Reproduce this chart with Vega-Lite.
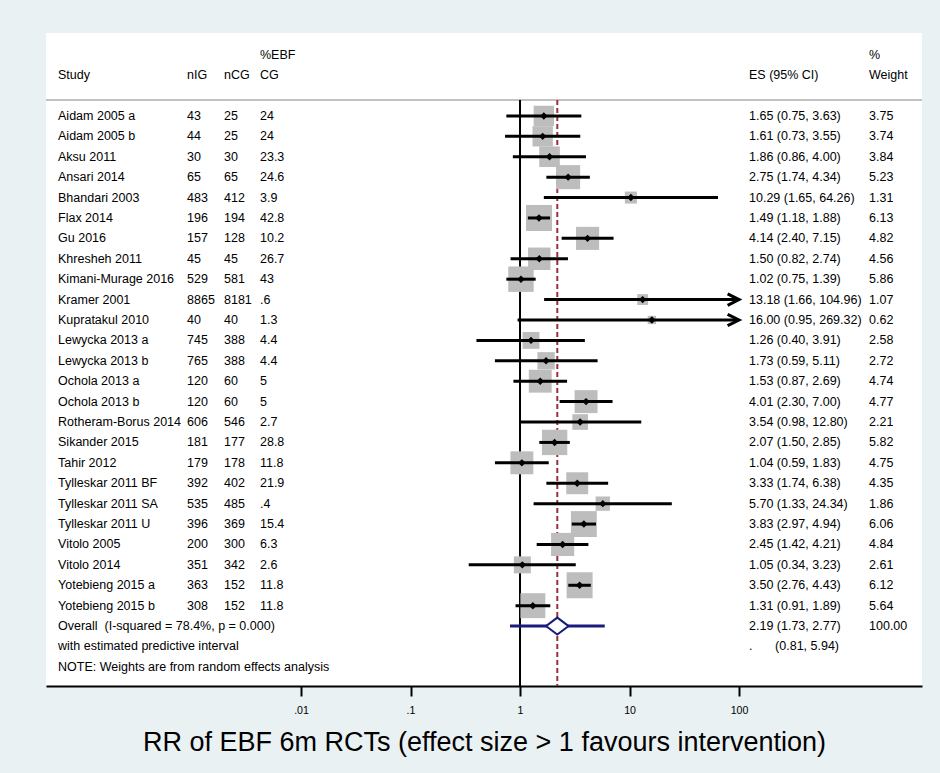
{
  "$schema": "https://vega.github.io/schema/vega-lite/v6.json",
  "width": 876,
  "height": 653,
  "autosize": {"type": "none"},
  "padding": {"left": 46, "top": 33, "right": 18, "bottom": 87},
  "background": "#eaf1f3",
  "config": {
    "view": {"fill": "white", "stroke": null},
    "font": "Liberation Sans",
    "text": {"font": "Liberation Sans", "fontSize": 12.5, "color": "black", "baseline": "middle", "align": "left"}
  },
  "datasets": {
    "studies": [
      {"study": "Aidam 2005 a", "nig": "43", "ncg": "25", "pcg": "24", "es": 1.65, "lo": 0.75, "hi": 3.63, "w": 3.75},
      {"study": "Aidam 2005 b", "nig": "44", "ncg": "25", "pcg": "24", "es": 1.61, "lo": 0.73, "hi": 3.55, "w": 3.74},
      {"study": "Aksu 2011", "nig": "30", "ncg": "30", "pcg": "23.3", "es": 1.86, "lo": 0.86, "hi": 4.00, "w": 3.84},
      {"study": "Ansari 2014", "nig": "65", "ncg": "65", "pcg": "24.6", "es": 2.75, "lo": 1.74, "hi": 4.34, "w": 5.23},
      {"study": "Bhandari 2003", "nig": "483", "ncg": "412", "pcg": "3.9", "es": 10.29, "lo": 1.65, "hi": 64.26, "w": 1.31},
      {"study": "Flax 2014", "nig": "196", "ncg": "194", "pcg": "42.8", "es": 1.49, "lo": 1.18, "hi": 1.88, "w": 6.13},
      {"study": "Gu 2016", "nig": "157", "ncg": "128", "pcg": "10.2", "es": 4.14, "lo": 2.40, "hi": 7.15, "w": 4.82},
      {"study": "Khresheh 2011", "nig": "45", "ncg": "45", "pcg": "26.7", "es": 1.50, "lo": 0.82, "hi": 2.74, "w": 4.56},
      {"study": "Kimani-Murage 2016", "nig": "529", "ncg": "581", "pcg": "43", "es": 1.02, "lo": 0.75, "hi": 1.39, "w": 5.86},
      {"study": "Kramer 2001", "nig": "8865", "ncg": "8181", "pcg": ".6", "es": 13.18, "lo": 1.66, "hi": 104.96, "w": 1.07},
      {"study": "Kupratakul 2010", "nig": "40", "ncg": "40", "pcg": "1.3", "es": 16.00, "lo": 0.95, "hi": 269.32, "w": 0.62},
      {"study": "Lewycka 2013 a", "nig": "745", "ncg": "388", "pcg": "4.4", "es": 1.26, "lo": 0.40, "hi": 3.91, "w": 2.58},
      {"study": "Lewycka 2013 b", "nig": "765", "ncg": "388", "pcg": "4.4", "es": 1.73, "lo": 0.59, "hi": 5.11, "w": 2.72},
      {"study": "Ochola 2013 a", "nig": "120", "ncg": "60", "pcg": "5", "es": 1.53, "lo": 0.87, "hi": 2.69, "w": 4.74},
      {"study": "Ochola 2013 b", "nig": "120", "ncg": "60", "pcg": "5", "es": 4.01, "lo": 2.30, "hi": 7.00, "w": 4.77},
      {"study": "Rotheram-Borus 2014", "nig": "606", "ncg": "546", "pcg": "2.7", "es": 3.54, "lo": 0.98, "hi": 12.80, "w": 2.21},
      {"study": "Sikander 2015", "nig": "181", "ncg": "177", "pcg": "28.8", "es": 2.07, "lo": 1.50, "hi": 2.85, "w": 5.82},
      {"study": "Tahir 2012", "nig": "179", "ncg": "178", "pcg": "11.8", "es": 1.04, "lo": 0.59, "hi": 1.83, "w": 4.75},
      {"study": "Tylleskar 2011 BF", "nig": "392", "ncg": "402", "pcg": "21.9", "es": 3.33, "lo": 1.74, "hi": 6.38, "w": 4.35},
      {"study": "Tylleskar 2011 SA", "nig": "535", "ncg": "485", "pcg": ".4", "es": 5.70, "lo": 1.33, "hi": 24.34, "w": 1.86},
      {"study": "Tylleskar 2011 U", "nig": "396", "ncg": "369", "pcg": "15.4", "es": 3.83, "lo": 2.97, "hi": 4.94, "w": 6.06},
      {"study": "Vitolo 2005", "nig": "200", "ncg": "300", "pcg": "6.3", "es": 2.45, "lo": 1.42, "hi": 4.21, "w": 4.84},
      {"study": "Vitolo 2014", "nig": "351", "ncg": "342", "pcg": "2.6", "es": 1.05, "lo": 0.34, "hi": 3.23, "w": 2.61},
      {"study": "Yotebieng 2015 a", "nig": "363", "ncg": "152", "pcg": "11.8", "es": 3.50, "lo": 2.76, "hi": 4.43, "w": 6.12},
      {"study": "Yotebieng 2015 b", "nig": "308", "ncg": "152", "pcg": "11.8", "es": 1.31, "lo": 0.91, "hi": 1.89, "w": 5.64}
    ],
    "overall": [
      {"row": "Overall", "label": "Overall\u00a0 (I-squared = 78.4%, p = 0.000)", "es": 2.19, "lo": 1.73, "hi": 2.77, "plo": 0.81, "phi": 5.94, "w": 100}
    ],
    "notes": [
      {"row": "pred", "text": "with estimated predictive interval"},
      {"row": "note", "text": "NOTE: Weights are from random effects analysis"}
    ],
    "headers": [
      {"row": "h1", "c1": "", "c2": "", "c3": "", "c4": "%EBF", "c5": "", "c6": "%"},
      {"row": "h2", "c1": "Study", "c2": "nIG", "c3": "nCG", "c4": "CG", "c5": "ES (95% CI)", "c6": "Weight"}
    ]
  },
  "layer": [
    {
      "data": {"values": [{}]},
      "mark": {"type": "rule", "color": "#c2c2c2", "strokeWidth": 2, "yOffset": 4.4},
      "encoding": {
        "y": {"datum": "sep", "type": "nominal", "axis": null, "scale": {"type": "point", "domain": ["h1", "h2", "sep", "Aidam 2005 a", "Aidam 2005 b", "Aksu 2011", "Ansari 2014", "Bhandari 2003", "Flax 2014", "Gu 2016", "Khresheh 2011", "Kimani-Murage 2016", "Kramer 2001", "Kupratakul 2010", "Lewycka 2013 a", "Lewycka 2013 b", "Ochola 2013 a", "Ochola 2013 b", "Rotheram-Borus 2014", "Sikander 2015", "Tahir 2012", "Tylleskar 2011 BF", "Tylleskar 2011 SA", "Tylleskar 2011 U", "Vitolo 2005", "Vitolo 2014", "Yotebieng 2015 a", "Yotebieng 2015 b", "Overall", "pred", "note"], "padding": 1.005, "align": 0.532, "round": false}}
      }
    },
    {
      "data": {"values": [{}]},
      "mark": {"type": "rule", "color": "black", "strokeWidth": 2, "yOffset": 4.4},
      "encoding": {
        "x": {"datum": 1, "type": "quantitative", "scale": {"type": "log", "domain": [0.0000469, 4688], "nice": false},
          "axis": {"values": [0.01, 0.1, 1, 10, 100], "format": "~g", "labelExpr": "datum.value < 1 ? replace(datum.label, '0.', '.') : datum.label",
            "grid": false, "domainColor": "black", "domainWidth": 2, "tickColor": "black", "tickWidth": 2, "tickSize": 10,
            "labelFontSize": 10.6, "labelColor": "black", "labelPadding": 9, "labelFont": "Liberation Sans",
            "title": "RR of EBF 6m RCTs (effect size > 1 favours intervention)", "titleFontSize": 27, "titleFontWeight": "normal",
            "titleColor": "black", "titleFont": "Liberation Sans", "titlePadding": 14}},
        "y": {"datum": "sep", "type": "nominal", "axis": null, "scale": {"type": "point", "domain": ["h1", "h2", "sep", "Aidam 2005 a", "Aidam 2005 b", "Aksu 2011", "Ansari 2014", "Bhandari 2003", "Flax 2014", "Gu 2016", "Khresheh 2011", "Kimani-Murage 2016", "Kramer 2001", "Kupratakul 2010", "Lewycka 2013 a", "Lewycka 2013 b", "Ochola 2013 a", "Ochola 2013 b", "Rotheram-Borus 2014", "Sikander 2015", "Tahir 2012", "Tylleskar 2011 BF", "Tylleskar 2011 SA", "Tylleskar 2011 U", "Vitolo 2005", "Vitolo 2014", "Yotebieng 2015 a", "Yotebieng 2015 b", "Overall", "pred", "note"], "padding": 1.005, "align": 0.532, "round": false}},
        "y2": {"value": "height"}
      }
    },
    {
      "data": {"name": "overall"},
      "mark": {"type": "rule", "color": "#9c2d3b", "strokeWidth": 2, "strokeDash": [5, 3], "yOffset": 4.4},
      "encoding": {
        "x": {"field": "es", "type": "quantitative", "scale": {"type": "log", "domain": [0.0000469, 4688], "nice": false}},
        "y": {"datum": "sep", "type": "nominal", "axis": null, "scale": {"type": "point", "domain": ["h1", "h2", "sep", "Aidam 2005 a", "Aidam 2005 b", "Aksu 2011", "Ansari 2014", "Bhandari 2003", "Flax 2014", "Gu 2016", "Khresheh 2011", "Kimani-Murage 2016", "Kramer 2001", "Kupratakul 2010", "Lewycka 2013 a", "Lewycka 2013 b", "Ochola 2013 a", "Ochola 2013 b", "Rotheram-Borus 2014", "Sikander 2015", "Tahir 2012", "Tylleskar 2011 BF", "Tylleskar 2011 SA", "Tylleskar 2011 U", "Vitolo 2005", "Vitolo 2014", "Yotebieng 2015 a", "Yotebieng 2015 b", "Overall", "pred", "note"], "padding": 1.005, "align": 0.532, "round": false}},
        "y2": {"value": "height"}
      }
    },
    {
      "data": {"name": "studies"},
      "mark": {"type": "point", "shape": "square", "filled": true, "color": "#bdbdbd", "opacity": 1},
      "encoding": {
        "x": {"field": "es", "type": "quantitative", "scale": {"type": "log", "domain": [0.0000469, 4688], "nice": false}},
        "y": {"field": "study", "type": "nominal", "axis": null, "scale": {"type": "point", "domain": ["h1", "h2", "sep", "Aidam 2005 a", "Aidam 2005 b", "Aksu 2011", "Ansari 2014", "Bhandari 2003", "Flax 2014", "Gu 2016", "Khresheh 2011", "Kimani-Murage 2016", "Kramer 2001", "Kupratakul 2010", "Lewycka 2013 a", "Lewycka 2013 b", "Ochola 2013 a", "Ochola 2013 b", "Rotheram-Borus 2014", "Sikander 2015", "Tahir 2012", "Tylleskar 2011 BF", "Tylleskar 2011 SA", "Tylleskar 2011 U", "Vitolo 2005", "Vitolo 2014", "Yotebieng 2015 a", "Yotebieng 2015 b", "Overall", "pred", "note"], "padding": 1.005, "align": 0.532, "round": false}},
        "size": {"field": "w", "type": "quantitative", "legend": null, "scale": {"type": "linear", "domain": [0, 7], "range": [0, 773.5]}}
      }
    },
    {
      "data": {"name": "studies"},
      "transform": [{"filter": "datum.hi <= 100"}],
      "mark": {"type": "rule", "color": "black", "strokeWidth": 3},
      "encoding": {
        "x": {"field": "lo", "type": "quantitative", "scale": {"type": "log", "domain": [0.0000469, 4688], "nice": false}},
        "x2": {"field": "hi"},
        "y": {"field": "study", "type": "nominal", "axis": null, "scale": {"type": "point", "domain": ["h1", "h2", "sep", "Aidam 2005 a", "Aidam 2005 b", "Aksu 2011", "Ansari 2014", "Bhandari 2003", "Flax 2014", "Gu 2016", "Khresheh 2011", "Kimani-Murage 2016", "Kramer 2001", "Kupratakul 2010", "Lewycka 2013 a", "Lewycka 2013 b", "Ochola 2013 a", "Ochola 2013 b", "Rotheram-Borus 2014", "Sikander 2015", "Tahir 2012", "Tylleskar 2011 BF", "Tylleskar 2011 SA", "Tylleskar 2011 U", "Vitolo 2005", "Vitolo 2014", "Yotebieng 2015 a", "Yotebieng 2015 b", "Overall", "pred", "note"], "padding": 1.005, "align": 0.532, "round": false}}
      }
    },
    {
      "data": {"name": "studies"},
      "transform": [{"filter": "datum.hi > 100"}],
      "mark": {"type": "rule", "color": "black", "strokeWidth": 3},
      "encoding": {
        "x": {"field": "lo", "type": "quantitative", "scale": {"type": "log", "domain": [0.0000469, 4688], "nice": false}},
        "x2": {"datum": 97},
        "y": {"field": "study", "type": "nominal", "axis": null, "scale": {"type": "point", "domain": ["h1", "h2", "sep", "Aidam 2005 a", "Aidam 2005 b", "Aksu 2011", "Ansari 2014", "Bhandari 2003", "Flax 2014", "Gu 2016", "Khresheh 2011", "Kimani-Murage 2016", "Kramer 2001", "Kupratakul 2010", "Lewycka 2013 a", "Lewycka 2013 b", "Ochola 2013 a", "Ochola 2013 b", "Rotheram-Borus 2014", "Sikander 2015", "Tahir 2012", "Tylleskar 2011 BF", "Tylleskar 2011 SA", "Tylleskar 2011 U", "Vitolo 2005", "Vitolo 2014", "Yotebieng 2015 a", "Yotebieng 2015 b", "Overall", "pred", "note"], "padding": 1.005, "align": 0.532, "round": false}}
      }
    },
    {
      "data": {"name": "studies"},
      "transform": [{"filter": "datum.hi > 100"}],
      "mark": {"type": "point", "shape": "M-2,-1L0,0L-2,1", "filled": false, "stroke": "black", "strokeWidth": 3, "size": 130, "opacity": 1},
      "encoding": {
        "x": {"datum": 100, "type": "quantitative", "scale": {"type": "log", "domain": [0.0000469, 4688], "nice": false}},
        "y": {"field": "study", "type": "nominal", "axis": null, "scale": {"type": "point", "domain": ["h1", "h2", "sep", "Aidam 2005 a", "Aidam 2005 b", "Aksu 2011", "Ansari 2014", "Bhandari 2003", "Flax 2014", "Gu 2016", "Khresheh 2011", "Kimani-Murage 2016", "Kramer 2001", "Kupratakul 2010", "Lewycka 2013 a", "Lewycka 2013 b", "Ochola 2013 a", "Ochola 2013 b", "Rotheram-Borus 2014", "Sikander 2015", "Tahir 2012", "Tylleskar 2011 BF", "Tylleskar 2011 SA", "Tylleskar 2011 U", "Vitolo 2005", "Vitolo 2014", "Yotebieng 2015 a", "Yotebieng 2015 b", "Overall", "pred", "note"], "padding": 1.005, "align": 0.532, "round": false}}
      }
    },
    {
      "data": {"name": "studies"},
      "mark": {"type": "point", "shape": "diamond", "filled": true, "color": "black", "size": 55, "opacity": 1},
      "encoding": {
        "x": {"field": "es", "type": "quantitative", "scale": {"type": "log", "domain": [0.0000469, 4688], "nice": false}},
        "y": {"field": "study", "type": "nominal", "axis": null, "scale": {"type": "point", "domain": ["h1", "h2", "sep", "Aidam 2005 a", "Aidam 2005 b", "Aksu 2011", "Ansari 2014", "Bhandari 2003", "Flax 2014", "Gu 2016", "Khresheh 2011", "Kimani-Murage 2016", "Kramer 2001", "Kupratakul 2010", "Lewycka 2013 a", "Lewycka 2013 b", "Ochola 2013 a", "Ochola 2013 b", "Rotheram-Borus 2014", "Sikander 2015", "Tahir 2012", "Tylleskar 2011 BF", "Tylleskar 2011 SA", "Tylleskar 2011 U", "Vitolo 2005", "Vitolo 2014", "Yotebieng 2015 a", "Yotebieng 2015 b", "Overall", "pred", "note"], "padding": 1.005, "align": 0.532, "round": false}}
      }
    },
    {
      "data": {"name": "overall"},
      "mark": {"type": "rule", "color": "#1b1b7e", "strokeWidth": 3},
      "encoding": {
        "x": {"field": "plo", "type": "quantitative", "scale": {"type": "log", "domain": [0.0000469, 4688], "nice": false}},
        "x2": {"field": "phi"},
        "y": {"field": "row", "type": "nominal", "axis": null, "scale": {"type": "point", "domain": ["h1", "h2", "sep", "Aidam 2005 a", "Aidam 2005 b", "Aksu 2011", "Ansari 2014", "Bhandari 2003", "Flax 2014", "Gu 2016", "Khresheh 2011", "Kimani-Murage 2016", "Kramer 2001", "Kupratakul 2010", "Lewycka 2013 a", "Lewycka 2013 b", "Ochola 2013 a", "Ochola 2013 b", "Rotheram-Borus 2014", "Sikander 2015", "Tahir 2012", "Tylleskar 2011 BF", "Tylleskar 2011 SA", "Tylleskar 2011 U", "Vitolo 2005", "Vitolo 2014", "Yotebieng 2015 a", "Yotebieng 2015 b", "Overall", "pred", "note"], "padding": 1.005, "align": 0.532, "round": false}}
      }
    },
    {
      "data": {"name": "overall"},
      "mark": {"type": "point", "shape": "M-1,0L0,-0.75L1,0L0,0.75Z", "filled": true, "fill": "white", "stroke": "#1b1b7e", "strokeWidth": 2, "size": 511, "opacity": 1},
      "encoding": {
        "x": {"field": "es", "type": "quantitative", "scale": {"type": "log", "domain": [0.0000469, 4688], "nice": false}},
        "y": {"field": "row", "type": "nominal", "axis": null, "scale": {"type": "point", "domain": ["h1", "h2", "sep", "Aidam 2005 a", "Aidam 2005 b", "Aksu 2011", "Ansari 2014", "Bhandari 2003", "Flax 2014", "Gu 2016", "Khresheh 2011", "Kimani-Murage 2016", "Kramer 2001", "Kupratakul 2010", "Lewycka 2013 a", "Lewycka 2013 b", "Ochola 2013 a", "Ochola 2013 b", "Rotheram-Borus 2014", "Sikander 2015", "Tahir 2012", "Tylleskar 2011 BF", "Tylleskar 2011 SA", "Tylleskar 2011 U", "Vitolo 2005", "Vitolo 2014", "Yotebieng 2015 a", "Yotebieng 2015 b", "Overall", "pred", "note"], "padding": 1.005, "align": 0.532, "round": false}}
      }
    },
    {
      "data": {"name": "studies"},
      "mark": "text",
      "encoding": {
        "x": {"datum": 0.0000604, "type": "quantitative", "scale": {"type": "log", "domain": [0.0000469, 4688], "nice": false}},
        "y": {"field": "study", "type": "nominal", "axis": null, "scale": {"type": "point", "domain": ["h1", "h2", "sep", "Aidam 2005 a", "Aidam 2005 b", "Aksu 2011", "Ansari 2014", "Bhandari 2003", "Flax 2014", "Gu 2016", "Khresheh 2011", "Kimani-Murage 2016", "Kramer 2001", "Kupratakul 2010", "Lewycka 2013 a", "Lewycka 2013 b", "Ochola 2013 a", "Ochola 2013 b", "Rotheram-Borus 2014", "Sikander 2015", "Tahir 2012", "Tylleskar 2011 BF", "Tylleskar 2011 SA", "Tylleskar 2011 U", "Vitolo 2005", "Vitolo 2014", "Yotebieng 2015 a", "Yotebieng 2015 b", "Overall", "pred", "note"], "padding": 1.005, "align": 0.532, "round": false}},
        "text": {"field": "study"}
      }
    },
    {
      "data": {"name": "studies"},
      "mark": "text",
      "encoding": {
        "x": {"datum": 0.00091, "type": "quantitative", "scale": {"type": "log", "domain": [0.0000469, 4688], "nice": false}},
        "y": {"field": "study", "type": "nominal", "axis": null, "scale": {"type": "point", "domain": ["h1", "h2", "sep", "Aidam 2005 a", "Aidam 2005 b", "Aksu 2011", "Ansari 2014", "Bhandari 2003", "Flax 2014", "Gu 2016", "Khresheh 2011", "Kimani-Murage 2016", "Kramer 2001", "Kupratakul 2010", "Lewycka 2013 a", "Lewycka 2013 b", "Ochola 2013 a", "Ochola 2013 b", "Rotheram-Borus 2014", "Sikander 2015", "Tahir 2012", "Tylleskar 2011 BF", "Tylleskar 2011 SA", "Tylleskar 2011 U", "Vitolo 2005", "Vitolo 2014", "Yotebieng 2015 a", "Yotebieng 2015 b", "Overall", "pred", "note"], "padding": 1.005, "align": 0.532, "round": false}},
        "text": {"field": "nig"}
      }
    },
    {
      "data": {"name": "studies"},
      "mark": "text",
      "encoding": {
        "x": {"datum": 0.00198, "type": "quantitative", "scale": {"type": "log", "domain": [0.0000469, 4688], "nice": false}},
        "y": {"field": "study", "type": "nominal", "axis": null, "scale": {"type": "point", "domain": ["h1", "h2", "sep", "Aidam 2005 a", "Aidam 2005 b", "Aksu 2011", "Ansari 2014", "Bhandari 2003", "Flax 2014", "Gu 2016", "Khresheh 2011", "Kimani-Murage 2016", "Kramer 2001", "Kupratakul 2010", "Lewycka 2013 a", "Lewycka 2013 b", "Ochola 2013 a", "Ochola 2013 b", "Rotheram-Borus 2014", "Sikander 2015", "Tahir 2012", "Tylleskar 2011 BF", "Tylleskar 2011 SA", "Tylleskar 2011 U", "Vitolo 2005", "Vitolo 2014", "Yotebieng 2015 a", "Yotebieng 2015 b", "Overall", "pred", "note"], "padding": 1.005, "align": 0.532, "round": false}},
        "text": {"field": "ncg"}
      }
    },
    {
      "data": {"name": "studies"},
      "mark": "text",
      "encoding": {
        "x": {"datum": 0.00422, "type": "quantitative", "scale": {"type": "log", "domain": [0.0000469, 4688], "nice": false}},
        "y": {"field": "study", "type": "nominal", "axis": null, "scale": {"type": "point", "domain": ["h1", "h2", "sep", "Aidam 2005 a", "Aidam 2005 b", "Aksu 2011", "Ansari 2014", "Bhandari 2003", "Flax 2014", "Gu 2016", "Khresheh 2011", "Kimani-Murage 2016", "Kramer 2001", "Kupratakul 2010", "Lewycka 2013 a", "Lewycka 2013 b", "Ochola 2013 a", "Ochola 2013 b", "Rotheram-Borus 2014", "Sikander 2015", "Tahir 2012", "Tylleskar 2011 BF", "Tylleskar 2011 SA", "Tylleskar 2011 U", "Vitolo 2005", "Vitolo 2014", "Yotebieng 2015 a", "Yotebieng 2015 b", "Overall", "pred", "note"], "padding": 1.005, "align": 0.532, "round": false}},
        "text": {"field": "pcg"}
      }
    },
    {
      "data": {"name": "studies"},
      "transform": [{"calculate": "format(datum.es, '.2f') + ' (' + format(datum.lo, '.2f') + ', ' + format(datum.hi, '.2f') + ')'", "as": "esl"}],
      "mark": "text",
      "encoding": {
        "x": {"datum": 123.4, "type": "quantitative", "scale": {"type": "log", "domain": [0.0000469, 4688], "nice": false}},
        "y": {"field": "study", "type": "nominal", "axis": null, "scale": {"type": "point", "domain": ["h1", "h2", "sep", "Aidam 2005 a", "Aidam 2005 b", "Aksu 2011", "Ansari 2014", "Bhandari 2003", "Flax 2014", "Gu 2016", "Khresheh 2011", "Kimani-Murage 2016", "Kramer 2001", "Kupratakul 2010", "Lewycka 2013 a", "Lewycka 2013 b", "Ochola 2013 a", "Ochola 2013 b", "Rotheram-Borus 2014", "Sikander 2015", "Tahir 2012", "Tylleskar 2011 BF", "Tylleskar 2011 SA", "Tylleskar 2011 U", "Vitolo 2005", "Vitolo 2014", "Yotebieng 2015 a", "Yotebieng 2015 b", "Overall", "pred", "note"], "padding": 1.005, "align": 0.532, "round": false}},
        "text": {"field": "esl"}
      }
    },
    {
      "data": {"name": "studies"},
      "mark": "text",
      "encoding": {
        "x": {"datum": 1539, "type": "quantitative", "scale": {"type": "log", "domain": [0.0000469, 4688], "nice": false}},
        "y": {"field": "study", "type": "nominal", "axis": null, "scale": {"type": "point", "domain": ["h1", "h2", "sep", "Aidam 2005 a", "Aidam 2005 b", "Aksu 2011", "Ansari 2014", "Bhandari 2003", "Flax 2014", "Gu 2016", "Khresheh 2011", "Kimani-Murage 2016", "Kramer 2001", "Kupratakul 2010", "Lewycka 2013 a", "Lewycka 2013 b", "Ochola 2013 a", "Ochola 2013 b", "Rotheram-Borus 2014", "Sikander 2015", "Tahir 2012", "Tylleskar 2011 BF", "Tylleskar 2011 SA", "Tylleskar 2011 U", "Vitolo 2005", "Vitolo 2014", "Yotebieng 2015 a", "Yotebieng 2015 b", "Overall", "pred", "note"], "padding": 1.005, "align": 0.532, "round": false}},
        "text": {"field": "w", "type": "quantitative", "format": ".2f"}
      }
    },
    {
      "data": {"name": "headers"},
      "mark": "text",
      "encoding": {
        "x": {"datum": 0.0000604, "type": "quantitative", "scale": {"type": "log", "domain": [0.0000469, 4688], "nice": false}},
        "y": {"field": "row", "type": "nominal", "axis": null, "scale": {"type": "point", "domain": ["h1", "h2", "sep", "Aidam 2005 a", "Aidam 2005 b", "Aksu 2011", "Ansari 2014", "Bhandari 2003", "Flax 2014", "Gu 2016", "Khresheh 2011", "Kimani-Murage 2016", "Kramer 2001", "Kupratakul 2010", "Lewycka 2013 a", "Lewycka 2013 b", "Ochola 2013 a", "Ochola 2013 b", "Rotheram-Borus 2014", "Sikander 2015", "Tahir 2012", "Tylleskar 2011 BF", "Tylleskar 2011 SA", "Tylleskar 2011 U", "Vitolo 2005", "Vitolo 2014", "Yotebieng 2015 a", "Yotebieng 2015 b", "Overall", "pred", "note"], "padding": 1.005, "align": 0.532, "round": false}},
        "text": {"field": "c1"}
      }
    },
    {
      "data": {"name": "headers"},
      "mark": "text",
      "encoding": {
        "x": {"datum": 0.00091, "type": "quantitative", "scale": {"type": "log", "domain": [0.0000469, 4688], "nice": false}},
        "y": {"field": "row", "type": "nominal", "axis": null, "scale": {"type": "point", "domain": ["h1", "h2", "sep", "Aidam 2005 a", "Aidam 2005 b", "Aksu 2011", "Ansari 2014", "Bhandari 2003", "Flax 2014", "Gu 2016", "Khresheh 2011", "Kimani-Murage 2016", "Kramer 2001", "Kupratakul 2010", "Lewycka 2013 a", "Lewycka 2013 b", "Ochola 2013 a", "Ochola 2013 b", "Rotheram-Borus 2014", "Sikander 2015", "Tahir 2012", "Tylleskar 2011 BF", "Tylleskar 2011 SA", "Tylleskar 2011 U", "Vitolo 2005", "Vitolo 2014", "Yotebieng 2015 a", "Yotebieng 2015 b", "Overall", "pred", "note"], "padding": 1.005, "align": 0.532, "round": false}},
        "text": {"field": "c2"}
      }
    },
    {
      "data": {"name": "headers"},
      "mark": "text",
      "encoding": {
        "x": {"datum": 0.00198, "type": "quantitative", "scale": {"type": "log", "domain": [0.0000469, 4688], "nice": false}},
        "y": {"field": "row", "type": "nominal", "axis": null, "scale": {"type": "point", "domain": ["h1", "h2", "sep", "Aidam 2005 a", "Aidam 2005 b", "Aksu 2011", "Ansari 2014", "Bhandari 2003", "Flax 2014", "Gu 2016", "Khresheh 2011", "Kimani-Murage 2016", "Kramer 2001", "Kupratakul 2010", "Lewycka 2013 a", "Lewycka 2013 b", "Ochola 2013 a", "Ochola 2013 b", "Rotheram-Borus 2014", "Sikander 2015", "Tahir 2012", "Tylleskar 2011 BF", "Tylleskar 2011 SA", "Tylleskar 2011 U", "Vitolo 2005", "Vitolo 2014", "Yotebieng 2015 a", "Yotebieng 2015 b", "Overall", "pred", "note"], "padding": 1.005, "align": 0.532, "round": false}},
        "text": {"field": "c3"}
      }
    },
    {
      "data": {"name": "headers"},
      "mark": "text",
      "encoding": {
        "x": {"datum": 0.00422, "type": "quantitative", "scale": {"type": "log", "domain": [0.0000469, 4688], "nice": false}},
        "y": {"field": "row", "type": "nominal", "axis": null, "scale": {"type": "point", "domain": ["h1", "h2", "sep", "Aidam 2005 a", "Aidam 2005 b", "Aksu 2011", "Ansari 2014", "Bhandari 2003", "Flax 2014", "Gu 2016", "Khresheh 2011", "Kimani-Murage 2016", "Kramer 2001", "Kupratakul 2010", "Lewycka 2013 a", "Lewycka 2013 b", "Ochola 2013 a", "Ochola 2013 b", "Rotheram-Borus 2014", "Sikander 2015", "Tahir 2012", "Tylleskar 2011 BF", "Tylleskar 2011 SA", "Tylleskar 2011 U", "Vitolo 2005", "Vitolo 2014", "Yotebieng 2015 a", "Yotebieng 2015 b", "Overall", "pred", "note"], "padding": 1.005, "align": 0.532, "round": false}},
        "text": {"field": "c4"}
      }
    },
    {
      "data": {"name": "headers"},
      "mark": "text",
      "encoding": {
        "x": {"datum": 123.4, "type": "quantitative", "scale": {"type": "log", "domain": [0.0000469, 4688], "nice": false}},
        "y": {"field": "row", "type": "nominal", "axis": null, "scale": {"type": "point", "domain": ["h1", "h2", "sep", "Aidam 2005 a", "Aidam 2005 b", "Aksu 2011", "Ansari 2014", "Bhandari 2003", "Flax 2014", "Gu 2016", "Khresheh 2011", "Kimani-Murage 2016", "Kramer 2001", "Kupratakul 2010", "Lewycka 2013 a", "Lewycka 2013 b", "Ochola 2013 a", "Ochola 2013 b", "Rotheram-Borus 2014", "Sikander 2015", "Tahir 2012", "Tylleskar 2011 BF", "Tylleskar 2011 SA", "Tylleskar 2011 U", "Vitolo 2005", "Vitolo 2014", "Yotebieng 2015 a", "Yotebieng 2015 b", "Overall", "pred", "note"], "padding": 1.005, "align": 0.532, "round": false}},
        "text": {"field": "c5"}
      }
    },
    {
      "data": {"name": "headers"},
      "mark": "text",
      "encoding": {
        "x": {"datum": 1539, "type": "quantitative", "scale": {"type": "log", "domain": [0.0000469, 4688], "nice": false}},
        "y": {"field": "row", "type": "nominal", "axis": null, "scale": {"type": "point", "domain": ["h1", "h2", "sep", "Aidam 2005 a", "Aidam 2005 b", "Aksu 2011", "Ansari 2014", "Bhandari 2003", "Flax 2014", "Gu 2016", "Khresheh 2011", "Kimani-Murage 2016", "Kramer 2001", "Kupratakul 2010", "Lewycka 2013 a", "Lewycka 2013 b", "Ochola 2013 a", "Ochola 2013 b", "Rotheram-Borus 2014", "Sikander 2015", "Tahir 2012", "Tylleskar 2011 BF", "Tylleskar 2011 SA", "Tylleskar 2011 U", "Vitolo 2005", "Vitolo 2014", "Yotebieng 2015 a", "Yotebieng 2015 b", "Overall", "pred", "note"], "padding": 1.005, "align": 0.532, "round": false}},
        "text": {"field": "c6"}
      }
    },
    {
      "data": {"name": "overall"},
      "mark": "text",
      "encoding": {
        "x": {"datum": 0.0000604, "type": "quantitative", "scale": {"type": "log", "domain": [0.0000469, 4688], "nice": false}},
        "y": {"field": "row", "type": "nominal", "axis": null, "scale": {"type": "point", "domain": ["h1", "h2", "sep", "Aidam 2005 a", "Aidam 2005 b", "Aksu 2011", "Ansari 2014", "Bhandari 2003", "Flax 2014", "Gu 2016", "Khresheh 2011", "Kimani-Murage 2016", "Kramer 2001", "Kupratakul 2010", "Lewycka 2013 a", "Lewycka 2013 b", "Ochola 2013 a", "Ochola 2013 b", "Rotheram-Borus 2014", "Sikander 2015", "Tahir 2012", "Tylleskar 2011 BF", "Tylleskar 2011 SA", "Tylleskar 2011 U", "Vitolo 2005", "Vitolo 2014", "Yotebieng 2015 a", "Yotebieng 2015 b", "Overall", "pred", "note"], "padding": 1.005, "align": 0.532, "round": false}},
        "text": {"field": "label"}
      }
    },
    {
      "data": {"name": "overall"},
      "transform": [{"calculate": "format(datum.es, '.2f') + ' (' + format(datum.lo, '.2f') + ', ' + format(datum.hi, '.2f') + ')'", "as": "esl"}],
      "mark": "text",
      "encoding": {
        "x": {"datum": 123.4, "type": "quantitative", "scale": {"type": "log", "domain": [0.0000469, 4688], "nice": false}},
        "y": {"field": "row", "type": "nominal", "axis": null, "scale": {"type": "point", "domain": ["h1", "h2", "sep", "Aidam 2005 a", "Aidam 2005 b", "Aksu 2011", "Ansari 2014", "Bhandari 2003", "Flax 2014", "Gu 2016", "Khresheh 2011", "Kimani-Murage 2016", "Kramer 2001", "Kupratakul 2010", "Lewycka 2013 a", "Lewycka 2013 b", "Ochola 2013 a", "Ochola 2013 b", "Rotheram-Borus 2014", "Sikander 2015", "Tahir 2012", "Tylleskar 2011 BF", "Tylleskar 2011 SA", "Tylleskar 2011 U", "Vitolo 2005", "Vitolo 2014", "Yotebieng 2015 a", "Yotebieng 2015 b", "Overall", "pred", "note"], "padding": 1.005, "align": 0.532, "round": false}},
        "text": {"field": "esl"}
      }
    },
    {
      "data": {"name": "overall"},
      "mark": "text",
      "encoding": {
        "x": {"datum": 1539, "type": "quantitative", "scale": {"type": "log", "domain": [0.0000469, 4688], "nice": false}},
        "y": {"field": "row", "type": "nominal", "axis": null, "scale": {"type": "point", "domain": ["h1", "h2", "sep", "Aidam 2005 a", "Aidam 2005 b", "Aksu 2011", "Ansari 2014", "Bhandari 2003", "Flax 2014", "Gu 2016", "Khresheh 2011", "Kimani-Murage 2016", "Kramer 2001", "Kupratakul 2010", "Lewycka 2013 a", "Lewycka 2013 b", "Ochola 2013 a", "Ochola 2013 b", "Rotheram-Borus 2014", "Sikander 2015", "Tahir 2012", "Tylleskar 2011 BF", "Tylleskar 2011 SA", "Tylleskar 2011 U", "Vitolo 2005", "Vitolo 2014", "Yotebieng 2015 a", "Yotebieng 2015 b", "Overall", "pred", "note"], "padding": 1.005, "align": 0.532, "round": false}},
        "text": {"field": "w", "type": "quantitative", "format": ".2f"}
      }
    },
    {
      "data": {"name": "overall"},
      "mark": "text",
      "encoding": {
        "x": {"datum": 123.4, "type": "quantitative", "scale": {"type": "log", "domain": [0.0000469, 4688], "nice": false}},
        "y": {"datum": "pred", "type": "nominal", "axis": null, "scale": {"type": "point", "domain": ["h1", "h2", "sep", "Aidam 2005 a", "Aidam 2005 b", "Aksu 2011", "Ansari 2014", "Bhandari 2003", "Flax 2014", "Gu 2016", "Khresheh 2011", "Kimani-Murage 2016", "Kramer 2001", "Kupratakul 2010", "Lewycka 2013 a", "Lewycka 2013 b", "Ochola 2013 a", "Ochola 2013 b", "Rotheram-Borus 2014", "Sikander 2015", "Tahir 2012", "Tylleskar 2011 BF", "Tylleskar 2011 SA", "Tylleskar 2011 U", "Vitolo 2005", "Vitolo 2014", "Yotebieng 2015 a", "Yotebieng 2015 b", "Overall", "pred", "note"], "padding": 1.005, "align": 0.532, "round": false}},
        "text": {"value": "."}
      }
    },
    {
      "data": {"name": "overall"},
      "transform": [{"calculate": "'(' + format(datum.plo, '.2f') + ', ' + format(datum.phi, '.2f') + ')'", "as": "pil"}],
      "mark": {"type": "text", "align": "right"},
      "encoding": {
        "x": {"datum": 819, "type": "quantitative", "scale": {"type": "log", "domain": [0.0000469, 4688], "nice": false}},
        "y": {"datum": "pred", "type": "nominal", "axis": null, "scale": {"type": "point", "domain": ["h1", "h2", "sep", "Aidam 2005 a", "Aidam 2005 b", "Aksu 2011", "Ansari 2014", "Bhandari 2003", "Flax 2014", "Gu 2016", "Khresheh 2011", "Kimani-Murage 2016", "Kramer 2001", "Kupratakul 2010", "Lewycka 2013 a", "Lewycka 2013 b", "Ochola 2013 a", "Ochola 2013 b", "Rotheram-Borus 2014", "Sikander 2015", "Tahir 2012", "Tylleskar 2011 BF", "Tylleskar 2011 SA", "Tylleskar 2011 U", "Vitolo 2005", "Vitolo 2014", "Yotebieng 2015 a", "Yotebieng 2015 b", "Overall", "pred", "note"], "padding": 1.005, "align": 0.532, "round": false}},
        "text": {"field": "pil"}
      }
    },
    {
      "data": {"name": "notes"},
      "mark": "text",
      "encoding": {
        "x": {"datum": 0.0000604, "type": "quantitative", "scale": {"type": "log", "domain": [0.0000469, 4688], "nice": false}},
        "y": {"field": "row", "type": "nominal", "axis": null, "scale": {"type": "point", "domain": ["h1", "h2", "sep", "Aidam 2005 a", "Aidam 2005 b", "Aksu 2011", "Ansari 2014", "Bhandari 2003", "Flax 2014", "Gu 2016", "Khresheh 2011", "Kimani-Murage 2016", "Kramer 2001", "Kupratakul 2010", "Lewycka 2013 a", "Lewycka 2013 b", "Ochola 2013 a", "Ochola 2013 b", "Rotheram-Borus 2014", "Sikander 2015", "Tahir 2012", "Tylleskar 2011 BF", "Tylleskar 2011 SA", "Tylleskar 2011 U", "Vitolo 2005", "Vitolo 2014", "Yotebieng 2015 a", "Yotebieng 2015 b", "Overall", "pred", "note"], "padding": 1.005, "align": 0.532, "round": false}},
        "text": {"field": "text"}
      }
    }
  ]
}
